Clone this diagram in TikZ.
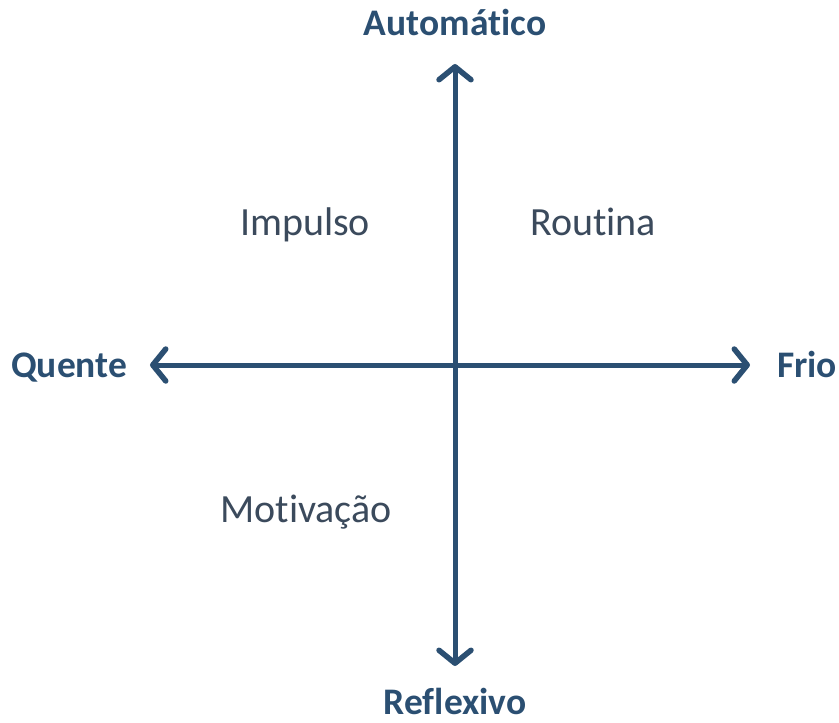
\documentclass[tikz,border=0pt]{standalone}
\usepackage{fontspec}
\setmainfont{Carlito}[Ligatures=NoCommon]
\usetikzlibrary{arrows.meta}
\definecolor{axisblue}{HTML}{2B4F72}
\definecolor{quadtext}{HTML}{3B4A5C}
\tikzset{
  axis/.style={draw=axisblue, line width=5pt, line cap=butt,
    -{Straight Barb[length=13pt,width=32pt,line width=5.5pt,round]}},
  axislabel/.style={text=axisblue, font=\fontsize{37.5}{40}\selectfont\bfseries, inner sep=0pt, anchor=base},
  quad/.style={text=quadtext, font=\fontsize{40}{44}\selectfont, inner sep=0pt, anchor=base}
}
\begin{document}
\begin{tikzpicture}[x=1pt,y=-1pt]
\useasboundingbox (0,0) rectangle (839,723);
\coordinate (c) at (455,365);
\coordinate (top) at (455,64);
\coordinate (bot) at (455,666);
\coordinate (left) at (150,365);
\coordinate (right) at (750,365);
\draw[axis] (c) -- (top);
\draw[axis] (c) -- (bot);
\draw[axis] (c) -- (left);
\draw[axis] (c) -- (right);
\node[axislabel] (auto) at (455,35) {Automático};
\node[axislabel] (refl) at (455,714) {Reflexivo};
\node[axislabel, anchor=base west] (quente) at (11,377) {Quente};
\node[axislabel, anchor=base west] (frio) at (777,377) {Frio};
\node[quad] (imp) at (305,235) {Impulso};
\node[quad] (rout) at (593,235) {Routina};
\node[quad] (mot) at (306,522) {Motivação};
\end{tikzpicture}
\end{document}
